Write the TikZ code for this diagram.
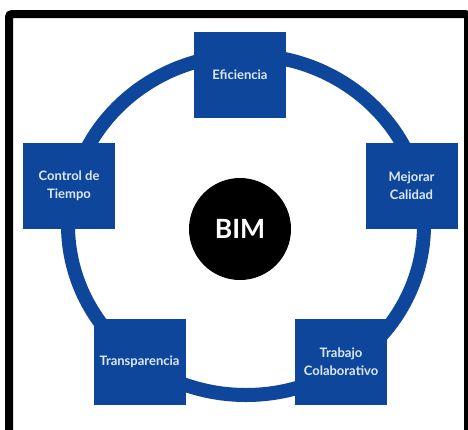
\documentclass[tikz,border=0pt]{standalone}
\usepackage{fontspec}
\setmainfont{Lato}
\definecolor{bimblue}{RGB}{14,70,155}
\definecolor{boxtext}{RGB}{222,233,248}

\begin{document}
\begin{tikzpicture}[x=1pt,y=-1pt,
  box/.style={draw=none,fill=bimblue,minimum width=92pt,minimum height=86pt,inner sep=0pt,
    align=center,text=boxtext,font=\bfseries\fontsize{13}{18}\selectfont},
  core/.style={circle,fill=black,minimum size=102pt,inner sep=0pt,text=white,
    font=\bfseries\fontsize{26.5}{30}\selectfont}]

  \clip (0,0) rectangle (468,429);
  \fill[white] (0,0) rectangle (468,429);

  % frame and ring
  \draw[line width=8pt,rounded corners=3pt] (9,14) rectangle (468,445);
  \draw[bimblue,line width=14pt] (246,225) ellipse [x radius=178,y radius=170];

  % Specification of nodes (position, etc.)
  \node[box] (efi) at (240,75) {Eficiencia};
  \node[box] (ctrl) at (69,186) {Control de\\Tiempo};
  \node[box] (cal) at (411.5,186) {Mejorar\\Calidad};
  \node[box] (trans) at (139.5,362) {Transparencia};
  \node[box] (trab) at (341,362) {Trabajo\\Colaborativo};
  \node[core] (bim) at (240,229) {BIM};

\end{tikzpicture}
\end{document}
